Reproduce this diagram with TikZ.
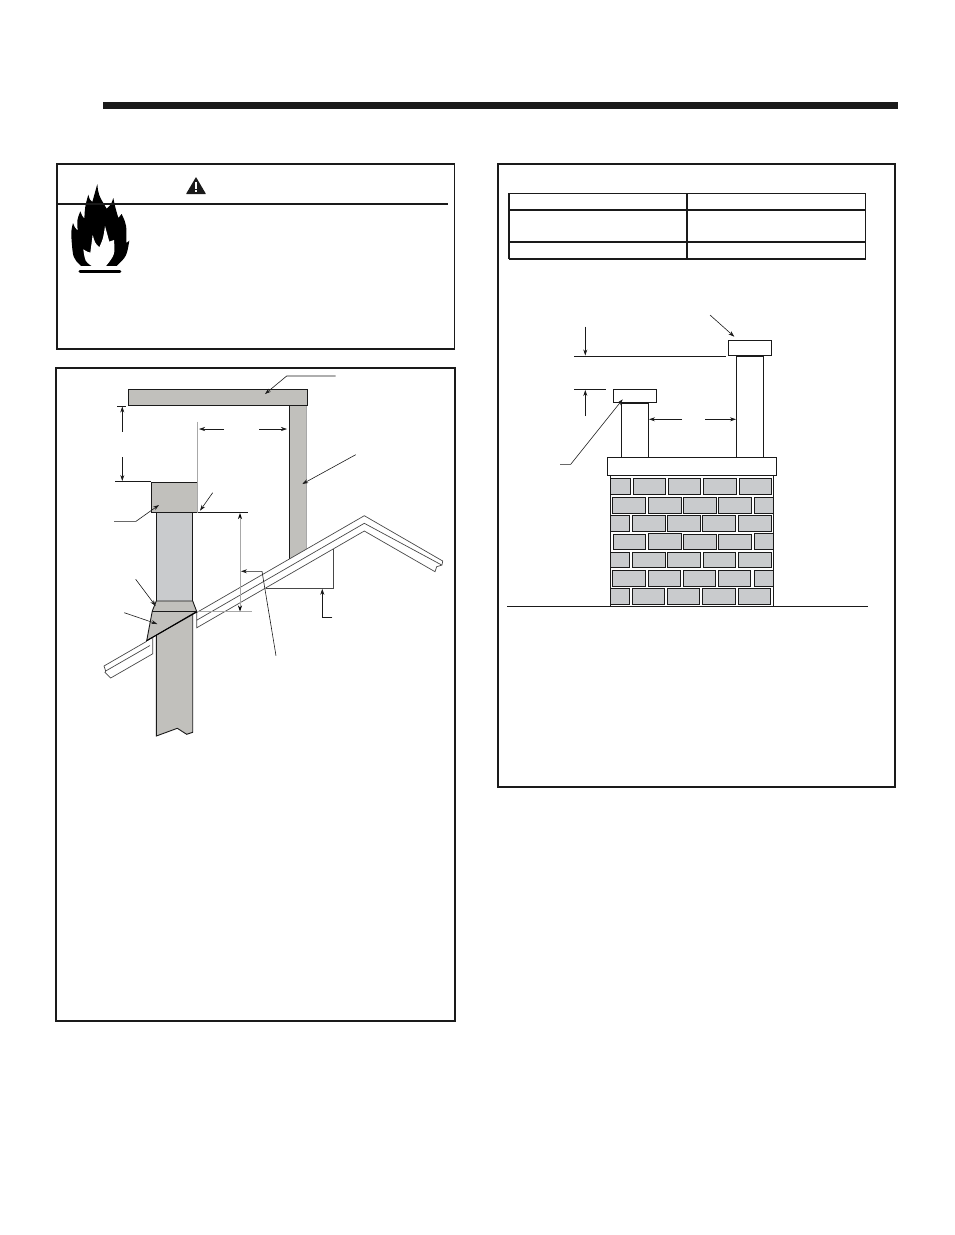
\documentclass[tikz,border=0pt]{standalone}
\usetikzlibrary{arrows.meta}
\definecolor{wallgray}{HTML}{C1C0BC}
\definecolor{pipegray}{HTML}{C9CBCD}
\definecolor{linegray}{HTML}{A8A8A8}
\definecolor{inkblack}{HTML}{1A1A1A}
\tikzset{
  panel/.style={draw=inkblack,line width=1.8pt},
  part/.style={draw=inkblack,line width=0.9pt},
  leader/.style={draw=inkblack,line width=0.6pt,-{Stealth[length=6pt,width=4pt]}},
  dimline/.style={draw=inkblack,line width=0.8pt},
  roofline/.style={draw=inkblack!80,line width=0.7pt},
}
\begin{document}
\begin{tikzpicture}[x=1pt,y=-1pt]
  \useasboundingbox (0,0) rectangle (954,1235);
  \fill[white] (0,0) rectangle (954,1235);
  \fill[inkblack] (103,102) rectangle (898,109); % Page rule
  % Warning panel
  \draw[panel] (57,164) rectangle (454.5,349);
  \begin{scope}[shift={(65,178)},x=0.3333pt,y=-0.3333pt] % Flame, traced at zoom scale
    \fill[black] (48,264) .. controls (24,240) .. (20,190) .. controls (18,160) .. (24,135)
      .. controls (30,150) .. (38,158) .. controls (36,125) .. (46,100) .. controls (52,115) .. (58,122)
      .. controls (60,85) .. (70,50) .. controls (74,65) .. (82,72) .. controls (88,45) .. (97,18)
      .. controls (100,50) .. (125,92) .. controls (138,80) .. (145,60) .. controls (150,85) .. (160,120)
      .. controls (165,115) .. (170,108) .. controls (185,140) .. (184,195) .. controls (188,193) .. (193,188)
      .. controls (185,235) .. (155,264) -- cycle;
    \fill[white] (80,264) .. controls (60,250) .. (55,214) .. controls (68,222) .. (76,224)
      .. controls (78,195) .. (83,171) .. controls (90,195) .. (103,208) .. controls (115,180) .. (120,144)
      .. controls (125,170) .. (133,191) .. controls (140,190) .. (147,186) .. controls (150,230) .. (123,264) -- cycle;
    \draw[black,line width=3pt,line cap=round] (45,282) -- (165,282);
  \end{scope}
  \draw[panel] (57,204) -- (448,204);
  \fill[inkblack,rounded corners=0.5pt] (196,177) -- (206,194) -- (186,194) -- cycle;
  \fill[white] (195.2,182) rectangle (196.8,189); % Triangle mark
  \fill[white] (195.2,190) rectangle (196.8,192);
  % Left panel
  \draw[panel] (56,367.7) rectangle (455,1020.7);
  \fill[wallgray] (289.3,405) -- (289.3,559) -- (306.7,549) -- (306.7,405) -- cycle; % Wall
  \draw[part] (289.3,405) -- (289.3,559);
  \draw[linegray,line width=0.9pt] (306.7,405) -- (306.7,549);
  \filldraw[part,fill=wallgray] (128.3,389.3) rectangle (307.3,405.3); % Overhang
  \draw[roofline] (196.7,612.5) -- (364.3,515.7) -- (442.7,561) -- (442,565) -- (436.7,566.7) -- (435,571.7) -- (364.3,531) -- (196.7,627.8) -- cycle; % Roof right
  \draw[roofline] (196.7,620.2) -- (364.3,523.3) -- (441.7,565);
  \draw[roofline] (146.7,641.3) -- (104,666) -- (105.7,671) -- (105,672.5) -- (110.7,678) -- (152.7,653.8) -- (152.7,638);
  \draw[roofline] (105.7,671) -- (150,645.5);
  \filldraw[part,fill=wallgray] (156.3,625) -- (156.3,736) -- (177.3,728.3) -- (186.7,734.3) -- (192.7,732.3) -- (192.7,612) -- cycle; % Pipe under roof
  \filldraw[part,fill=pipegray] (156.3,512.7) rectangle (192.7,601); % Pipe above roof
  \filldraw[part,fill=wallgray] (156.3,601) -- (192.7,601) -- (196.7,611.5) -- (146.7,640.7) -- (152.3,611) -- cycle; % Flashing
  \draw[part] (152.3,611) -- (196.7,611);
  \draw[black,line width=1pt] (146.7,640.7) -- (196.7,612);
  \filldraw[fill=wallgray,draw=none] (151.3,482) rectangle (197.3,512.7); % Cap
  \draw[linegray,line width=0.8pt] (197.3,421.7) -- (197.3,512.7);
  \draw[part] (197.3,482) -- (151.3,482) -- (151.3,512.7) -- (197.3,512.7);
  \draw[dimline] (115,481.3) -- (151,481.3);
  \draw[dimline] (117,406) -- (126,406);
  \draw[leader] (122.3,431.7) -- (122.3,406.5); % Height above cap
  \draw[leader] (122.3,457) -- (122.3,481);
  \draw[leader] (224,429) -- (199,429); % Distance to wall
  \draw[leader] (259,429) -- (287,429);
  \draw[leader] (212.7,492.7) -- (200,510.7);
  \draw[dimline] (198.3,512.7) -- (247.7,512.7);
  \draw[linegray,line width=0.9pt] (196.7,611.7) -- (252,611.7);
  \draw[linegray,line width=0.9pt,{Stealth[length=6pt,width=4pt,black]}-{Stealth[length=6pt,width=4pt,black]}] (240,513) -- (240,611.5); % Rise at pipe
  \draw[leader] (276,655.7) -- (262,571.3) -- (241,571.3);
  \draw[leader] (114,521.3) -- (136,521.3) -- (159,505);
  \draw[leader] (135.7,579.3) -- (155.7,606);
  \draw[leader] (124.3,612.7) -- (157.3,624);
  \draw[leader] (335.7,376) -- (286.7,376) -- (265,394);
  \draw[leader] (355.7,454.7) -- (302.3,484);
  \draw[roofline] (333.3,549) -- (333.3,588.3) -- (265.7,588.3); % Run bracket
  \draw[leader] (332.3,617.3) -- (322.3,617.3) -- (322.3,588.8);
  % Right panel
  \draw[panel] (498,164) rectangle (895,787);
  \draw[inkblack,line width=1.1pt] (509,193.3) -- (866,193.3);
  \draw[panel] (509,209.7) -- (866,209.7);
  \draw[panel] (509,241.7) -- (866,241.7);
  \draw[panel] (509,258.7) -- (866,258.7);
  \draw[panel] (509,193) -- (509,259);
  \draw[panel] (687,193) -- (687,259);
  \draw[inkblack,line width=1pt] (865.7,193) -- (865.7,259);
  % Chimney
  \draw[part] (736.3,356) rectangle (763.3,457.3);
  \draw[part] (621.3,403) rectangle (648.3,457.3);
  \draw[part] (728.3,340.3) rectangle (771.7,355.7);
  \draw[part] (613.3,389.3) rectangle (656.7,402.7);
  \draw[part] (607.3,457.3) rectangle (776.7,475.7);
  \draw[part] (610.3,476) -- (610.3,606);
  \draw[part] (773.3,476) -- (773.3,606);
  \begin{scope}[shift={(500,450)},x=0.3333pt,y=-0.3333pt] % Bricks, traced at zoom scale
    \foreach \ya/\yb/\cols in {
      85/133/{331/392,400/497,505/602,610/710,718/815},
      142/190/{337/437,445/545,550/650,655/755,763/820},
      196/244/{331/389,397/497,502/602,607/707,715/815},
      253/298/{340/437,550/650,655/755},
      250/298/{445/545,763/820},
      307/352/{331/389,397/497,502/602,610/707,715/815},
      361/409/{337/437,445/542,550/647,655/752,763/820},
      415/463/{331/389,397/494,502/599,607/707,715/812}}
      \foreach \xa/\xb in \cols
        \filldraw[part,fill=pipegray] (\xa,\ya) rectangle (\xb,\yb);
  \end{scope}
  \draw[part] (507.3,606) -- (868,606); % Ground
  \draw[leader] (710,315) -- (734.3,336.7);
  \draw[dimline] (574,356.3) -- (726,356.3);
  \draw[leader] (585.3,326.7) -- (585.3,355.5);
  \draw[dimline] (574,389.3) -- (606,389.3);
  \draw[leader] (585.3,416) -- (585.3,390);
  \draw[leader] (560,464.3) -- (570.7,464.3) -- (622.7,399.3);
  \draw[leader] (682,419.3) -- (649,419.3);
  \draw[leader] (705,419.3) -- (736,419.3);
\end{tikzpicture}
\end{document}
